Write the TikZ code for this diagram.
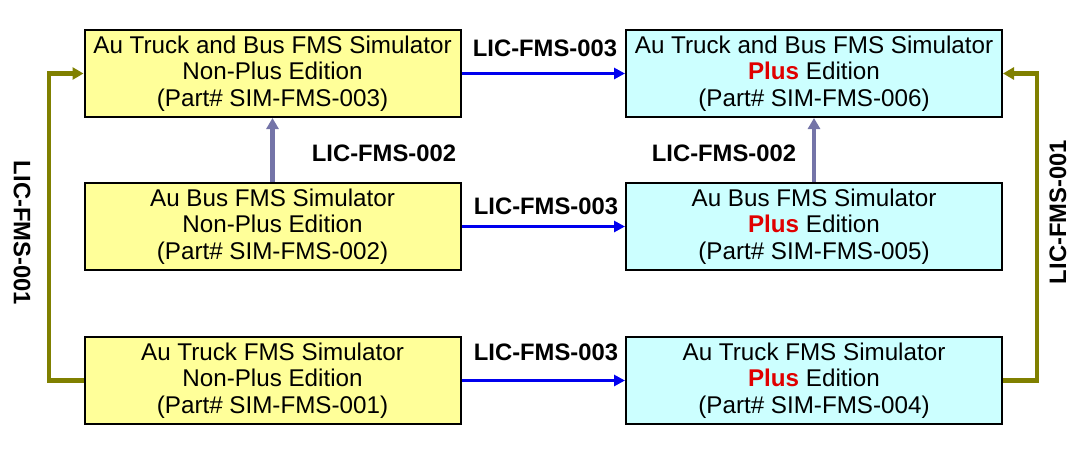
\documentclass[tikz,border=0pt]{standalone}
\usepackage{fontspec}
\setmainfont{Liberation Sans}
\usetikzlibrary{arrows.meta}
\definecolor{boxyellow}{HTML}{FFFF99}
\definecolor{boxcyan}{HTML}{CCFFFF}
\definecolor{arrblue}{HTML}{0000EE}
\definecolor{arrgrey}{HTML}{7474A8}
\definecolor{arrolive}{HTML}{808000}
\definecolor{plusred}{HTML}{E00000}
\newcommand{\plusword}{\textcolor{plusred}{\textbf{Plus}}}
\tikzset{
  prodbox/.style={draw=black, line width=2pt, minimum width=376pt, minimum height=87pt,
    align=center, inner sep=0pt, font=\fontsize{24.2}{26.7}\selectfont},
  nonplus/.style={prodbox, fill=boxyellow},
  plusbox/.style={prodbox, fill=boxcyan},
  lic/.style={font=\fontsize{23.8}{26}\selectfont\bfseries, inner sep=0pt},
  bluearr/.style={draw=arrblue, line width=3.4pt, -{Triangle[length=11pt,width=11pt]}},
  greyarr/.style={draw=arrgrey, line width=4.4pt, -{Triangle[length=11pt,width=12pt]}},
  olivearr/.style={draw=arrolive, line width=4.2pt, -{Triangle[length=11pt,width=12pt]}},
}
\begin{document}
\begin{tikzpicture}[x=1pt,y=-1pt]
\useasboundingbox (0,0) rectangle (1088,450);
% boxes
\node[nonplus] (tl) at (272.5,73.5) {Au Truck and Bus FMS Simulator\\Non-Plus Edition\\(Part\# SIM-FMS-003)};
\node[nonplus] (ml) at (272.5,226.5) {Au Bus FMS Simulator\\Non-Plus Edition\\(Part\# SIM-FMS-002)};
\node[nonplus] (bl) at (272.5,380.5) {Au Truck FMS Simulator\\Non-Plus Edition\\(Part\# SIM-FMS-001)};
\node[plusbox] (tr) at (814,73.5) {Au Truck and Bus FMS Simulator\\\plusword{} Edition\\(Part\# SIM-FMS-006)};
\node[plusbox] (mr) at (814,226.5) {Au Bus FMS Simulator\\\plusword{} Edition\\(Part\# SIM-FMS-005)};
\node[plusbox] (br) at (814,380.5) {Au Truck FMS Simulator\\\plusword{} Edition\\(Part\# SIM-FMS-004)};
% horizontal blue arrows
\draw[bluearr] (tl.east) -- (tr.west);
\draw[bluearr] (ml.east) -- (mr.west);
\draw[bluearr] (bl.east) -- (br.west);
\node[lic] (l3a) at (545,48) {LIC-FMS-003};
\node[lic] (l3b) at (546,206) {LIC-FMS-003};
\node[lic] (l3c) at (546,352) {LIC-FMS-003};
% vertical grey arrows
\draw[greyarr] (ml.north) -- (tl.south);
\draw[greyarr] (mr.north) -- (tr.south);
\node[lic] (l2a) at (384,153) {LIC-FMS-002};
\node[lic] (l2b) at (724,153) {LIC-FMS-002};
% olive side arrows
\coordinate (lx) at (49,227);
\coordinate (rx) at (1037,227);
\draw[olivearr] (bl.west) -| (lx) |- (tl.west);
\draw[olivearr] (br.east) -| (rx) |- (tr.east);
\node[lic, rotate=-90] (l1a) at (22,233) {LIC-FMS-001};
\node[lic, rotate=90] (l1b) at (1058,212) {LIC-FMS-001};
\end{tikzpicture}
\end{document}
